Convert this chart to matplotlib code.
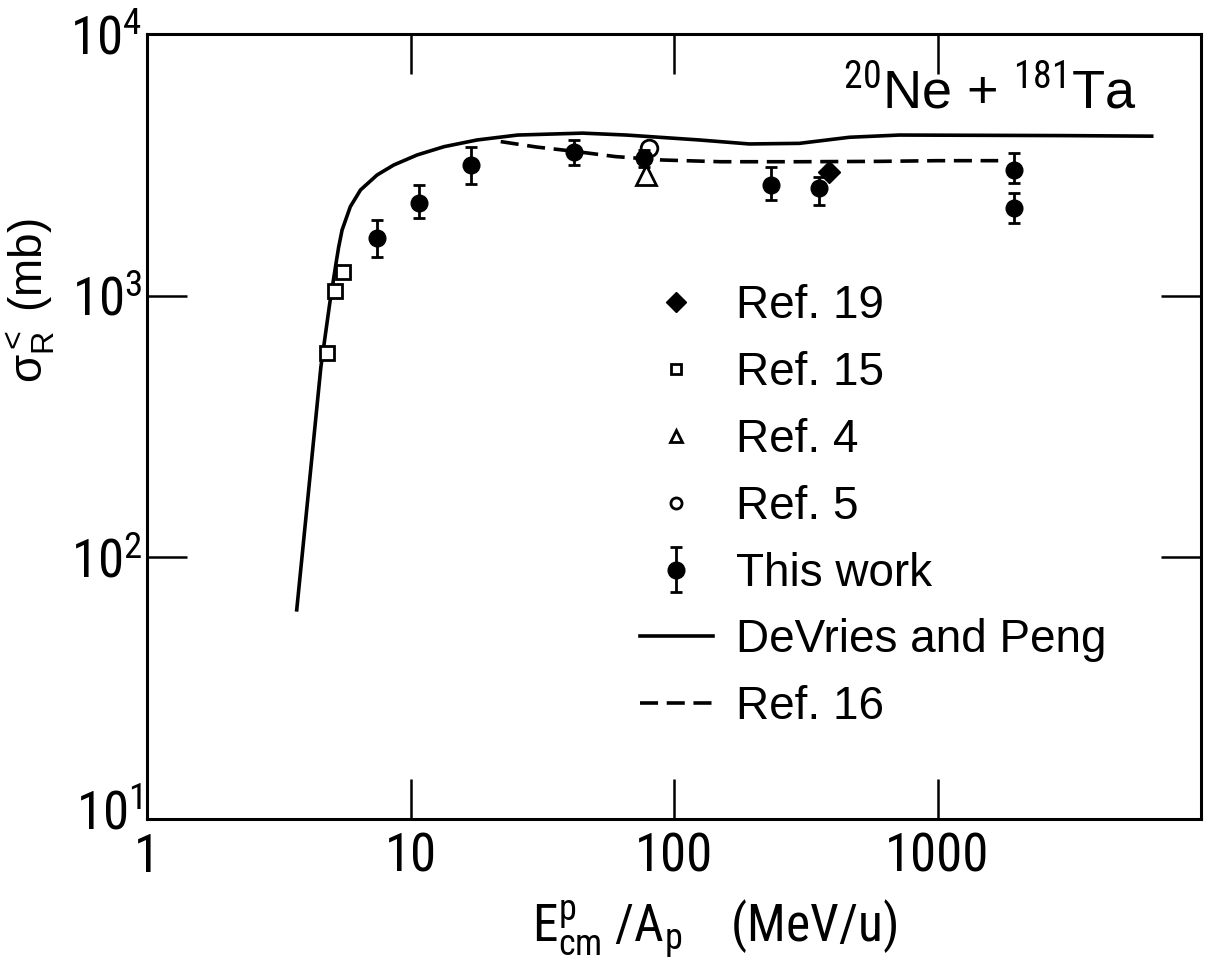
import matplotlib
matplotlib.use("Agg")
import matplotlib.pyplot as plt
import matplotlib.transforms as mtransforms
from matplotlib import font_manager
from matplotlib.lines import Line2D

# narrow face for the axis numbers if one is installed
installed = {f.name for f in font_manager.fontManager.ttflist}
narrow = None
for name in ['Liberation Sans Narrow', 'Arial Narrow', 'Noto Sans Condensed',
             'Roboto Condensed', 'Open Sans Condensed']:
    if name in installed:
        narrow = name
        break
if narrow:
    num_font, num_size, lab_size = narrow, 38, 37
else:
    num_font, num_size, lab_size = 'Liberation Sans', 34, 32

plt.rcParams['font.family'] = [num_font, 'Liberation Sans', 'DejaVu Sans']
plt.rcParams['mathtext.fontset'] = 'custom'
plt.rcParams['mathtext.rm'] = num_font
plt.rcParams['mathtext.it'] = num_font

# DeVries and Peng calculation
dv_e = [3.7, 3.91, 4.57, 4.94, 5.24, 5.34, 5.50, 5.91, 6.46, 7.47, 8.64, 10.6, 13.4, 17.9,
        25.5, 45, 66, 125, 193, 299, 463, 716, 1500, 3000, 6500]
dv_s = [63, 110, 534, 938, 1368, 1537, 1782, 2188, 2535, 2893, 3158, 3450, 3710, 3936,
        4110, 4180, 4110, 3935, 3800, 3820, 4030, 4110, 4100, 4090, 4070]

# Ref. 16 calculation
r16_e = [22, 30, 42, 60, 90, 150, 300, 600, 1000, 1700]
r16_s = [3880, 3700, 3560, 3400, 3300, 3250, 3250, 3260, 3280, 3280]

# measurements
tw_e = [7.43, 10.8, 16.9, 41.7, 77, 234, 356, 1950, 1950]
tw_s = [1660, 2255, 3160, 3550, 3350, 2650, 2570, 3020, 2160]
tw_lo = [250, 280, 490, 390, 250, 330, 350, 320, 270]
tw_hi = [290, 395, 550, 385, 250, 460, 280, 480, 300]

r19_e = [389]
r19_s = [2980]
r15_e = [4.84, 5.16, 5.52]
r15_s = [603, 1042, 1236]
r4_e = [78.4]
r4_s = [2890]
r5_e = [80.7]
r5_s = [3660]

fig = plt.figure(figsize=(12.1, 9.66), dpi=100)
ax = fig.add_axes([147 / 1210, 1 - 819 / 966, (1201 - 147) / 1210, (819 - 34) / 966])
ax.set_xscale('log')
ax.set_yscale('log')
ax.set_xlim(1, 1e4)
ax.set_ylim(10, 1e4)

ax.plot(dv_e, dv_s, '-', color='black', lw=2.6)
ax.plot(r16_e, r16_s, '--', color='black', lw=2.6, dashes=(5, 2.4))

ax.plot(r19_e, r19_s, 'D', color='black', ms=11, ls='none')
ax.plot(r15_e, r15_s, 's', mfc='white', mec='black', mew=2, ms=10, ls='none')
ax.plot(r4_e, r4_s, '^', mfc='white', mec='black', mew=2, ms=14, ls='none')
ax.plot(r5_e, r5_s, 'o', mfc='white', mec='black', mew=2, ms=12, ls='none')
ax.errorbar(tw_e, tw_s, yerr=[tw_lo, tw_hi], fmt='o', color='black', ms=12,
            elinewidth=2, capsize=4, capthick=2)

for s in ax.spines.values():
    s.set_linewidth(2.2)

ax.set_xticks([1, 10, 100, 1000])
ax.set_xticklabels(['1', '10', '100', '1000'])
ax.set_yticks([10, 100, 1000, 10000])
ax.minorticks_off()
ax.tick_params(which='major', direction='in', length=29, width=1.8,
               top=True, right=True, labelsize=num_size)
ax.tick_params(axis='x', pad=9)
# lift the 10^1 label off the "1" below it
ylabels = ax.get_yticklabels()
ylabels[0].set_transform(ylabels[0].get_transform() +
                         mtransforms.ScaledTranslation(0, 10 / 100, fig.dpi_scale_trans))

ax.set_xlabel(r'$\mathregular{E^{p}_{cm}}$ $\mathregular{/A_p}$    (MeV/u)',
              fontsize=lab_size)
ax.xaxis.set_label_coords(0.538, -0.1)
ax.set_ylabel(r'$\mathregular{\sigma_R^{<}}$ (mb)', fontsize=33, family='Liberation Sans')
ax.yaxis.set_label_coords(-0.085, 0.66)

ax.text(0.66, 0.905, r'$^{20}$Ne + $^{181}$Ta', transform=ax.transAxes,
        fontsize=39, family='Liberation Sans')

handles = [
    Line2D([], [], marker='D', color='black', ls='none', ms=10),
    Line2D([], [], marker='s', mfc='white', mec='black', mew=2, ls='none', ms=7),
    Line2D([], [], marker='^', mfc='white', mec='black', mew=2, ls='none', ms=8),
    Line2D([], [], marker='o', mfc='white', mec='black', mew=2, ls='none', ms=8),
    ax.containers[0],
    Line2D([], [], color='black', lw=2.6),
    Line2D([], [], color='black', lw=2.6, ls='--', dashes=(5, 2.4)),
]
labels = ['Ref. 19', 'Ref. 15', 'Ref. 4', 'Ref. 5', 'This work', 'DeVries and Peng', 'Ref. 16']
ax.legend(handles, labels, loc='upper left', bbox_to_anchor=(0.45, 0.705),
          frameon=False, prop={'family': 'Liberation Sans', 'size': 33},
          handlelength=1.6, handletextpad=0.5, labelspacing=0.5, borderaxespad=0)

fig.savefig('out.png', dpi=100)
